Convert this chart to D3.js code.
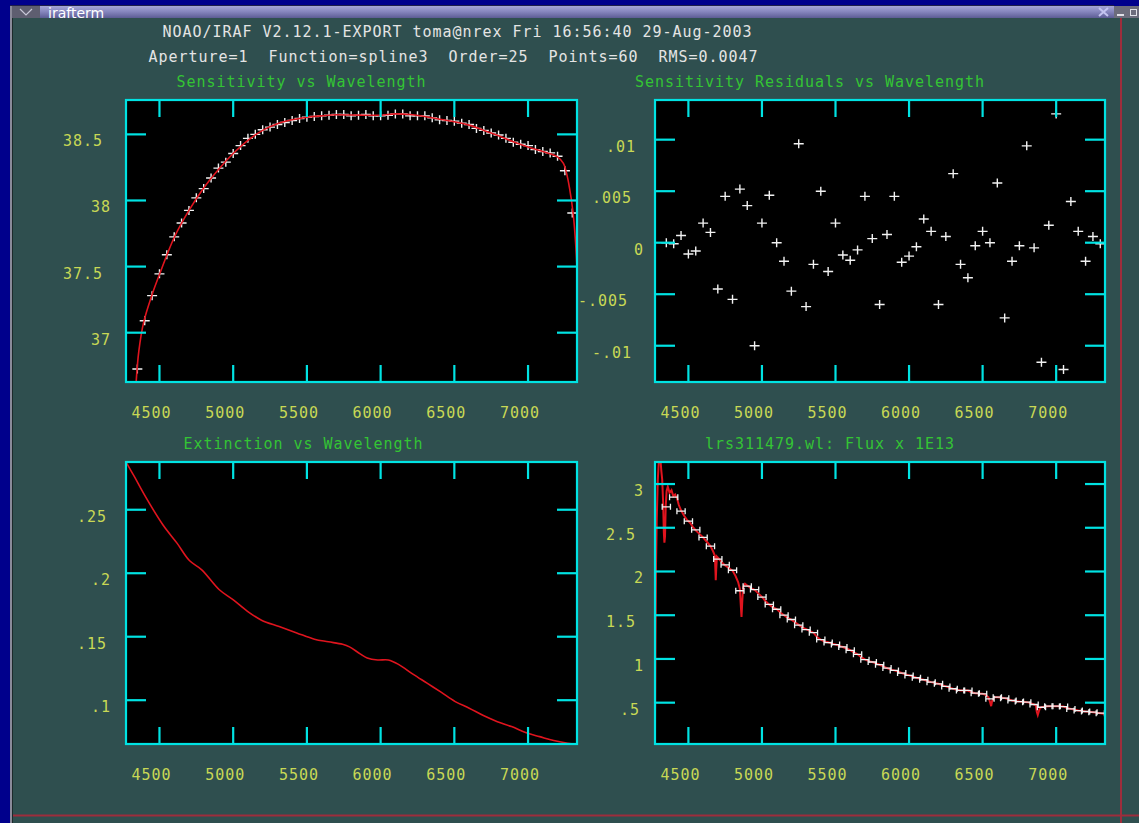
<!DOCTYPE html>
<html><head><meta charset="utf-8">
<script src="https://cdn.jsdelivr.net/npm/d3@7"></script>
<style>html,body{margin:0;padding:0;background:#00008c;overflow:hidden}</style>
</head><body>
<svg id="c" width="1139" height="823"></svg>
<script>
// ---------------- DATA ----------------
const headerLine1 = "NOAO/IRAF V2.12.1-EXPORT toma@nrex Fri 16:56:40 29-Aug-2003";
const headerLine2 = "Aperture=1  Function=spline3  Order=25  Points=60  RMS=0.0047";
const panelTitles = ["Sensitivity vs Wavelength", "Sensitivity Residuals vs Wavelength",
                     "Extinction vs Wavelength", "lrs311479.wl: Flux x 1E13"];

const xTicks = [4500, 5000, 5500, 6000, 6500, 7000];
const xTickLabels = ["4500", "5000", "5500", "6000", "6500", "7000"];

const sensTicks = [37, 37.5, 38, 38.5];
const sensTickLabels = ["37", "37.5", "38", "38.5"];
const residTicks = [-0.01, -0.005, 0, 0.005, 0.01];
const residTickLabels = ["-.01", "-.005", "0", ".005", ".01"];
const extTicks = [0.1, 0.15, 0.2, 0.25];
const extTickLabels = [".1", ".15", ".2", ".25"];
const fluxTicks = [0.5, 1, 1.5, 2, 2.5, 3];
const fluxTickLabels = [".5", "1", "1.5", "2", "2.5", "3"];

// calibration bandpass centres (Angstrom)
const wavelengths = [4350,4400,4450,4500,4550,4600,4650,4700,4750,4800,
  4850,4900,4950,5000,5050,5100,5150,5200,5250,5300,
  5350,5400,5450,5500,5550,5600,5650,5700,5750,5800,
  5850,5900,5950,6000,6050,6100,6150,6200,6250,6300,
  6350,6400,6450,6500,6550,6600,6650,6700,6750,6800,
  6850,6900,6950,7000,7050,7100,7150,7200,7250,7300];

const sensPoints = [36.725,37.09,37.28,37.445,37.59,37.725,37.83,37.925,38.02,38.09,
  38.17,38.245,38.29,38.355,38.415,38.47,38.50,38.535,38.555,38.575,
  38.59,38.605,38.62,38.63,38.635,38.64,38.645,38.65,38.65,38.64,
  38.645,38.65,38.64,38.64,38.645,38.655,38.655,38.64,38.64,38.64,
  38.625,38.61,38.605,38.60,38.585,38.575,38.545,38.53,38.51,38.495,
  38.47,38.44,38.425,38.415,38.385,38.37,38.36,38.335,38.225,37.905];

const residuals = [0,-0.0001,0.0007,-0.0011,-0.0008,0.0019,0.001,-0.0045,0.0045,-0.0055,
  0.0052,0.0036,-0.010,0.0019,0.0046,0.0,-0.0018,-0.0047,0.0096,-0.0062,
  -0.0021,0.005,-0.0028,0.0019,-0.0012,-0.0017,-0.0007,0.0045,0.0004,-0.006,
  0.0008,0.0045,-0.0019,-0.0013,-0.0004,0.0023,0.0011,-0.006,0.0006,0.0067,
  -0.0021,-0.0034,-0.0003,0.0011,0.0,0.0058,-0.0073,-0.0018,-0.0003,0.0094,
  -0.0005,-0.0116,0.0017,0.0125,-0.0123,0.004,0.0011,-0.0018,0.0006,-0.0001];

const fluxPoints = [2.74,2.85,2.69,2.575,2.476,2.389,2.29,2.142,2.076,2.014,
  1.78,1.832,1.793,1.707,1.623,1.568,1.50,1.451,1.386,1.336,
  1.301,1.221,1.187,1.164,1.137,1.099,1.053,0.992,0.965,0.934,
  0.896,0.869,0.839,0.812,0.785,0.762,0.735,0.716,0.686,0.659,
  0.640,0.640,0.609,0.601,0.544,0.563,0.552,0.525,0.513,0.506,
  0.479,0.448,0.460,0.460,0.456,0.429,0.410,0.399,0.391,0.380];

// fitted sensitivity function
const sensFitWave = [4342,4360,4393,4449,4500,4600,4700,4800,4900,5000,5100,5200,5300,5400,5500,
  5600,5700,5800,5900,6000,6100,6200,6300,6400,6500,6600,6700,6800,6900,7000,7100,7200,
  7240,7258,7282,7306,7320,7332];
const sensFitVal = [36.63,36.86,37.08,37.285,37.44,37.72,37.925,38.095,38.235,38.355,38.455,38.53,38.58,38.61,38.63,
  38.64,38.648,38.646,38.645,38.645,38.655,38.65,38.635,38.615,38.595,38.57,38.53,38.49,38.445,38.405,38.37,38.33,
  38.28,38.22,38.09,37.90,37.72,37.49];

// extinction curve
const extWave = [4273,4330,4404,4524,4619,4703,4787,4906,5001,5097,5192,5312,5431,5551,5646,5742,
  5789,5861,5909,5980,6052,6124,6219,6315,6410,6506,6601,6697,6792,6888,6983,7079,7174,7270,7332];
const extVal = [0.2876,0.276,0.2605,0.238,0.2237,0.210,0.2027,0.187,0.179,0.170,0.163,0.158,0.153,0.148,0.146,0.144,
  0.142,0.1365,0.1333,0.1317,0.1317,0.128,0.1205,0.1134,0.1063,0.0989,0.0937,0.0879,0.0831,0.0792,0.0745,0.0713,
  0.0682,0.0661,0.0655];

// observed spectrum (flux x 1E13)
const specWave = [4273,4276,4280,4285,4292,4300,4310,4316,4322,4328,4333,4337,4341,4346,4352,4360,4372,4385,
  4398,4410,4422,4435,4450,4470,4490,4510,4530,4550,4575,4600,4625,4650,4668,4680,4684,4686,4689,4694,
  4710,4730,4750,4775,4800,4820,4838,4850,4856,4861,4866,4872,4885,4900,4925,4950,4975,5000,5025,5050,
  5075,5100,5125,5150,5175,5200,5225,5250,5275,5300,5325,5350,5375,5400,5425,5450,5475,5500,5525,5550,
  5575,5600,5625,5650,5675,5700,5725,5750,5775,5800,5825,5850,5875,5900,5925,5950,5975,6000,6025,6050,
  6075,6100,6125,6150,6175,6200,6225,6250,6275,6300,6325,6350,6375,6400,6425,6450,6475,6500,6520,6540,
  6552,6558,6565,6580,6600,6625,6650,6675,6700,6725,6750,6775,6800,6825,6850,6862,6868,6875,6882,6890,
  6900,6925,6950,6975,7000,7025,7050,7075,7100,7125,7150,7175,7200,7225,7250,7275,7300,7332];
const specVal = [0.18,1.20,2.10,2.60,3.05,3.30,3.28,3.15,3.05,2.80,2.45,2.33,2.40,2.75,2.92,2.97,2.90,2.93,
  2.86,2.88,2.84,2.76,2.70,2.64,2.59,2.56,2.51,2.47,2.43,2.39,2.34,2.29,2.23,2.18,2.00,1.90,2.02,2.17,
  2.14,2.10,2.07,2.04,2.01,1.95,1.88,1.80,1.62,1.48,1.65,1.82,1.86,1.84,1.81,1.79,1.75,1.71,1.66,1.62,
  1.59,1.57,1.53,1.50,1.47,1.45,1.42,1.39,1.36,1.34,1.32,1.30,1.25,1.22,1.20,1.19,1.175,1.165,1.15,1.137,
  1.12,1.10,1.075,1.053,1.02,0.995,0.975,0.965,0.95,0.934,0.915,0.896,0.88,0.869,0.855,0.839,0.825,0.812,0.80,0.785,
  0.772,0.762,0.748,0.735,0.725,0.716,0.70,0.686,0.672,0.659,0.648,0.640,0.640,0.638,0.62,0.609,0.605,0.601,0.59,0.56,
  0.50,0.46,0.52,0.565,0.563,0.558,0.552,0.54,0.525,0.518,0.513,0.51,0.506,0.495,0.479,0.47,0.40,0.36,0.40,0.44,
  0.448,0.455,0.46,0.46,0.46,0.458,0.456,0.44,0.429,0.42,0.41,0.404,0.399,0.395,0.391,0.385,0.38,0.37];

const waveDomain = [4273, 7332];
const bandHalf = 28;

// ---------------- STYLE ----------------
const C = {
  bg: "#00008c", term: "#2f4f4f", frame: "#00e3e3", label: "#c8d855",
  title: "#34c434", header: "#e4e4e4", curve: "#e0141e", mark: "#f2f2f2", red: "#9e2d3c"
};
const FONT = "'DejaVu Sans Mono', 'Liberation Mono', monospace";
const IRAF_CW = 14; // IRAF's assumed char width for justification

const svg = d3.select("#c");

// ---------------- WINDOW CHROME ----------------
svg.append("rect").attr("width", 1139).attr("height", 823).attr("fill", C.bg);
svg.append("rect").attr("x", 12).attr("y", 18).attr("width", 1127).attr("height", 805).attr("fill", C.term);
svg.append("rect").attr("x", 10).attr("y", 6).attr("width", 2).attr("height", 817).attr("fill", "#8a8a9a");
svg.append("rect").attr("x", 12).attr("y", 18).attr("width", 1).attr("height", 805).attr("fill", "#1c2a2a");

const defs = svg.append("defs");
const grad = defs.append("linearGradient").attr("id", "tb").attr("x1", 0).attr("y1", 0).attr("x2", 0).attr("y2", 1);
grad.append("stop").attr("offset", "0%").attr("stop-color", "#a6a6d8");
grad.append("stop").attr("offset", "50%").attr("stop-color", "#8484bc");
grad.append("stop").attr("offset", "100%").attr("stop-color", "#5c5c94");
svg.append("rect").attr("x", 12).attr("y", 6).attr("width", 1102).attr("height", 12).attr("fill", "url(#tb)");
svg.append("rect").attr("x", 10).attr("y", 5).attr("width", 1104).attr("height", 1).attr("fill", "#20204a");
svg.append("rect").attr("x", 12).attr("y", 6).attr("width", 28).attr("height", 12).attr("fill", "#5e5e70");
svg.append("path").attr("d", "M20,9 L26,15 L32,9").attr("fill", "none").attr("stroke", "#c8c8d8").attr("stroke-width", 1.2);
svg.append("text").attr("x", 48).attr("y", 17.5).attr("fill", "#ffffff")
  .attr("font-family", "'DejaVu Sans', sans-serif").attr("font-size", 14).text("irafterm");
svg.append("path").attr("d", "M1099,8 L1108,16 M1108,8 L1099,16").attr("stroke", "#c4c4f0").attr("stroke-width", 2);
svg.append("rect").attr("x", 1114).attr("y", 6).attr("width", 25).attr("height", 12).attr("fill", "#6c6c7c");
svg.append("rect").attr("x", 1117).attr("y", 14).attr("width", 7).attr("height", 2).attr("fill", "#e0e0e8");
svg.append("rect").attr("x", 1130.5).attr("y", 9.5).attr("width", 6).attr("height", 6).attr("fill", "none").attr("stroke", "#e0e0e8");

// red frame lines of the terminal
svg.append("rect").attr("x", 1120).attr("y", 18).attr("width", 2).attr("height", 805).attr("fill", C.red);
svg.append("rect").attr("x", 13).attr("y", 814.5).attr("width", 1126).attr("height", 2).attr("fill", C.red);

// ---------------- TEXT HELPER (IRAF justification) ----------------
function irafText(g, str, ax, ay, hjust, color) {
  return g.append("text")
    .attr("x", ax - str.length * IRAF_CW * hjust)
    .attr("y", ay)
    .attr("fill", color)
    .attr("font-family", FONT)
    .attr("font-size", 15)
    .attr("letter-spacing", "0.97px")
    .style("white-space", "pre")
    .attr("xml:space", "preserve")
    .text(str);
}

irafText(svg, headerLine1, 575.5, 37, 0.5, C.header);
irafText(svg, headerLine2, 575.5, 61.5, 0.5, C.header);

// ---------------- PANELS ----------------
const panels = [
  { id: 0, x0: 126, x1: 577, y0: 100, y1: 382, yDomain: [36.627, 38.76], ticks: sensTicks, labels: sensTickLabels },
  { id: 1, x0: 655, x1: 1105, y0: 100, y1: 382, yDomain: [-0.01352, 0.01385], ticks: residTicks, labels: residTickLabels },
  { id: 2, x0: 126, x1: 577, y0: 462, y1: 744, yDomain: [0.0655, 0.2876], ticks: extTicks, labels: extTickLabels },
  { id: 3, x0: 655, x1: 1105, y0: 462, y1: 744, yDomain: [0.0275, 3.252], ticks: fluxTicks, labels: fluxTickLabels }
];

panels.forEach(p => {
  const xs = d3.scaleLinear().domain(waveDomain).range([p.x0, p.x1]);
  const ys = d3.scaleLinear().domain(p.yDomain).range([p.y1, p.y0]);
  p.xs = xs; p.ys = ys;
  const g = svg.append("g");
  g.append("rect").attr("x", p.x0).attr("y", p.y0).attr("width", p.x1 - p.x0).attr("height", p.y1 - p.y0).attr("fill", "#000");

  defs.append("clipPath").attr("id", "clip" + p.id).append("rect")
    .attr("x", p.x0).attr("y", p.y0).attr("width", p.x1 - p.x0).attr("height", p.y1 - p.y0);
  const pg = g.append("g").attr("clip-path", `url(#clip${p.id})`);
  p.pg = pg;

  // ticks (inward, all four sides)
  const tg = g.append("g").attr("stroke", C.frame).attr("stroke-width", 2.2);
  xTicks.forEach(t => {
    const x = xs(t);
    tg.append("line").attr("x1", x).attr("x2", x).attr("y1", p.y1).attr("y2", p.y1 - 17);
    tg.append("line").attr("x1", x).attr("x2", x).attr("y1", p.y0).attr("y2", p.y0 + 17);
  });
  p.ticks.forEach(t => {
    const y = ys(t);
    tg.append("line").attr("x1", p.x0).attr("x2", p.x0 + 20).attr("y1", y).attr("y2", y);
    tg.append("line").attr("x1", p.x1).attr("x2", p.x1 - 20).attr("y1", y).attr("y2", y);
  });

  // tick labels
  xTicks.forEach((t, i) => irafText(g, xTickLabels[i], xs(t), p.y1 + 35.5, 0.5, C.label));
  p.ticks.forEach((t, i) => irafText(g, p.labels[i], p.x0 - 7, ys(t) + 12, 1, C.label));

  // title
  irafText(g, panelTitles[p.id], (p.x0 + p.x1) / 2, p.y0 - 13, 0.5, C.title);
  p.g = g;
});

const plusPath = "M-5,0H5M0,-4.5V4.5";

// Panel 0: sensitivity points + fit
{
  const p = panels[0];
  p.pg.selectAll("path.pt").data(wavelengths).enter().append("path")
    .attr("d", plusPath).attr("transform", (w, i) => `translate(${p.xs(w)},${p.ys(sensPoints[i])})`)
    .attr("stroke", C.mark).attr("stroke-width", 1.4).attr("fill", "none");
  const line = d3.line().x((w) => p.xs(w)).y((w, i) => p.ys(sensFitVal[i])).curve(d3.curveCatmullRom);
  p.pg.append("path").attr("d", line(sensFitWave)).attr("fill", "none").attr("stroke", C.curve).attr("stroke-width", 1.6);
}
// Panel 1: residuals
{
  const p = panels[1];
  p.pg.selectAll("path.pt").data(wavelengths).enter().append("path")
    .attr("d", plusPath).attr("transform", (w, i) => `translate(${p.xs(w)},${p.ys(residuals[i])})`)
    .attr("stroke", C.mark).attr("stroke-width", 1.4).attr("fill", "none");
}
// Panel 2: extinction
{
  const p = panels[2];
  const line = d3.line().x((w) => p.xs(w)).y((w, i) => p.ys(extVal[i])).curve(d3.curveCatmullRom);
  p.pg.append("path").attr("d", line(extWave)).attr("fill", "none").attr("stroke", C.curve).attr("stroke-width", 1.6);
}
// Panel 3: flux spectrum + bandpass markers
{
  const p = panels[3];
  const line = d3.line().x((w) => p.xs(w)).y((w, i) => p.ys(specVal[i]));
  p.pg.append("path").attr("d", line(specWave)).attr("fill", "none").attr("stroke", C.curve).attr("stroke-width", 2);
  const mg = p.pg.append("g").attr("stroke", C.mark).attr("stroke-width", 1.3).attr("fill", "none");
  wavelengths.forEach((w, i) => {
    const xa = p.xs(w - bandHalf), xb = p.xs(w + bandHalf), y = p.ys(fluxPoints[i]);
    mg.append("path").attr("d", `M${xa},${y}H${xb}M${xa},${y - 3}V${y + 3}M${xb},${y - 3}V${y + 3}`);
  });
}

// frames on top
panels.forEach(p => {
  p.g.append("rect").attr("x", p.x0).attr("y", p.y0).attr("width", p.x1 - p.x0).attr("height", p.y1 - p.y0)
    .attr("fill", "none").attr("stroke", C.frame).attr("stroke-width", 2.2);
});
</script>
</body></html>
